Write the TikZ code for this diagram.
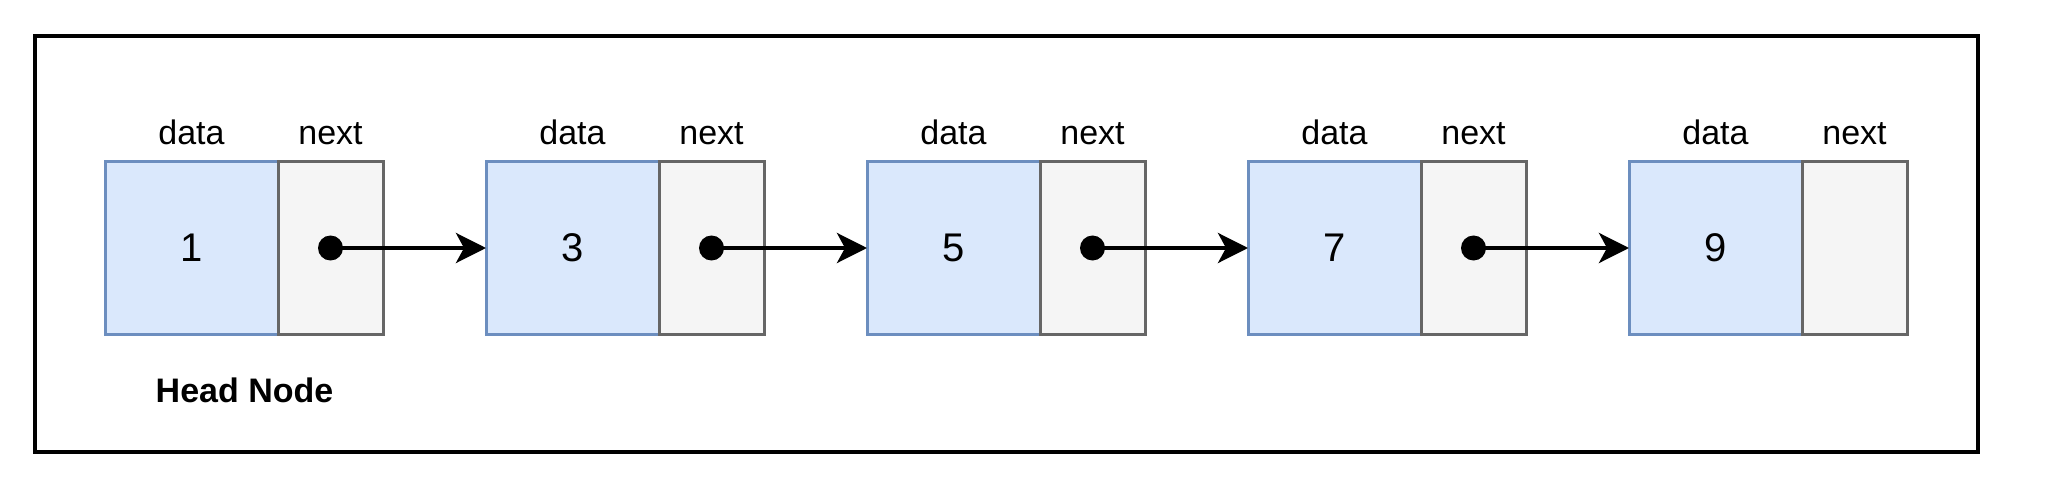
\documentclass[tikz,border=0pt]{standalone}
\usepackage{fontspec}
\setmainfont{Liberation Sans}
\usetikzlibrary{arrows.meta}
\definecolor{dfill}{HTML}{DAE8FC}
\definecolor{dline}{HTML}{6C8EBF}
\definecolor{nfill}{HTML}{F5F5F5}
\definecolor{nline}{HTML}{666666}
\begin{document}
\begin{tikzpicture}[x=1pt,y=-1pt,
  datacell/.style={draw=dline, fill=dfill, line width=3pt, minimum width=173pt, minimum height=172pt, inner sep=0pt, outer sep=0pt, font=\fontsize{40}{46}\selectfont},
  nextcell/.style={draw=nline, fill=nfill, line width=3pt, minimum width=105pt, minimum height=172pt, inner sep=0pt, outer sep=0pt},
  lbl/.style={font=\fontsize{34}{40}\selectfont, anchor=base, inner sep=0pt},
  ptr/.style={draw=black, line width=4pt, -{Stealth[length=30pt,width=30pt,inset=8pt]}},
  dot/.style={circle, fill=black, minimum size=25pt, inner sep=0pt},
  frame/.style={draw=black, line width=4pt}]
\useasboundingbox (0,0) rectangle (2048,489);
\fill[white] (0,0) rectangle (2048,489);
\draw[frame] (35,36) rectangle (1978,452);
\foreach \i/\v in {0/1,1/3,2/5,3/7,4/9} {
  \node[datacell] (d\i) at (191.5+381*\i,248) {\v};
  \node[nextcell, anchor=west] (n\i) at (d\i.east) {};
  \node[lbl] (dl\i) at ([yshift=17pt]d\i.north) {data};
  \node[lbl] (nl\i) at ([yshift=17pt]n\i.north) {next};
}
\foreach \i in {0,1,2,3} {
  \node[dot] (p\i) at (n\i.center) {};
}
\draw[ptr] (p0.center) -- (d1.west);
\draw[ptr] (p1.center) -- (d2.west);
\draw[ptr] (p2.center) -- (d3.west);
\draw[ptr] (p3.center) -- (d4.west);
\node[lbl, font=\fontsize{34}{40}\selectfont\bfseries] (head) at (244.5,402) {Head Node};
\end{tikzpicture}
\end{document}
